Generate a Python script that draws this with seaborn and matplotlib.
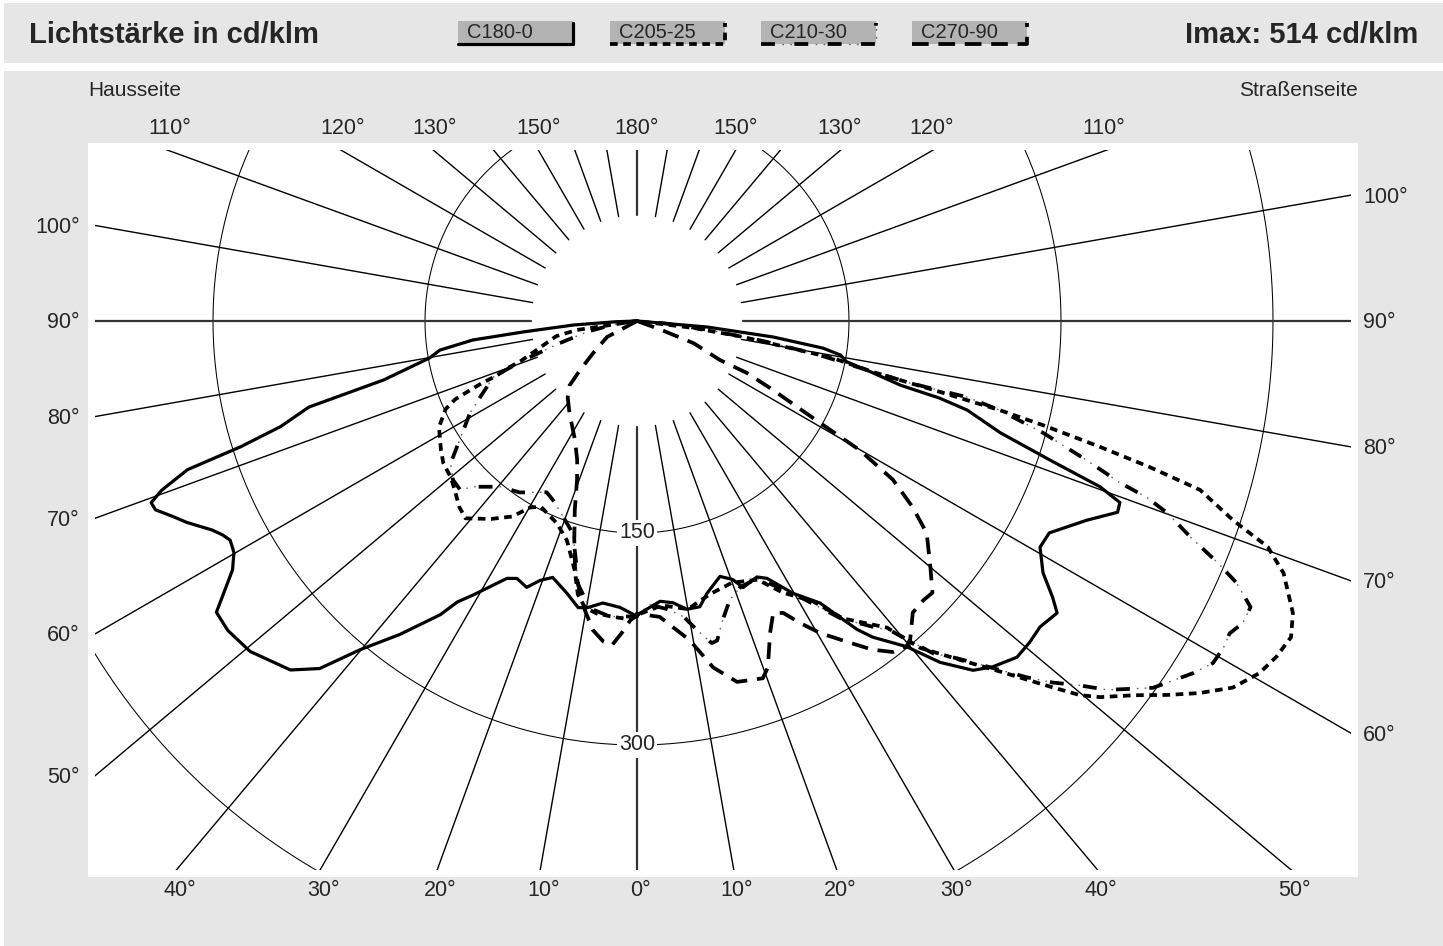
import numpy as np
import pandas as pd
import matplotlib
matplotlib.use("Agg")
import matplotlib.pyplot as plt
import seaborn as sns
from matplotlib.patches import Rectangle
from matplotlib.lines import Line2D

# ---------------- data (gamma in degrees, intensity in cd/klm) ----------------
# C180 (left half of C180-0)
c180_g = [0, 3.4, 6.9, 9.9, 11.6, 14.4, 18.2, 20.5, 22.5, 25.0, 26.8, 30.9, 32.6, 33.8, 37.1, 40.1, 42.4, 44.8,
          49.5, 52.9, 55.3, 56.3, 58.4, 60.1, 60.8, 61.7, 62.7, 63.8, 65.9, 67.1, 68.6, 69.5, 70.4, 71.7, 72.4,
          73.5, 75.3, 76.9, 79.9, 81.6, 83.4, 84.5, 86.4, 88.0, 90.0]
c180_i = [209, 203, 201, 206, 207, 199, 191, 196, 204, 201, 204, 226, 236, 250, 278, 304, 333, 348,
          360, 363, 362, 353, 336, 329, 328, 327, 330, 335, 349, 356, 366, 367, 357, 335, 294,
          263, 240, 184, 149, 141, 117, 81, 45, 15, 0]
# C0 (right half of C180-0)
c0_g = [0, 4.7, 7.3, 9.8, 12.4, 14.4, 18.0, 20.3, 21.7, 25.1, 26.8, 29.8, 33.0, 34.4, 35.5, 36.7, 39.6, 41.6,
        43.9, 45.8, 48.5, 50.7, 52.8, 55.2, 56.4, 58.2, 60.7, 62.8, 66.1, 68.3, 69.4, 70.3, 71.4, 72.9, 74.9,
        75.7, 76.3, 77.6, 79.0, 80.5, 81.7, 83.3, 85.1, 90.0]
c0_i = [208, 199, 201, 207, 207, 199, 190, 195, 203, 200, 204, 222, 238, 254, 268, 279, 299, 323,
        343, 351, 359, 359, 358, 362, 353, 338, 327, 328, 348, 366, 365, 348, 308, 269, 242,
        221, 192, 171, 151, 146, 133, 97, 50, 0]
# C205 (left half of C205-25)
c205_g = [0, 1.9, 4.6, 7.8, 10.3, 12.2, 14.0, 17.7, 21.6, 27.3, 29.8, 32.5, 36.4, 41.0, 43.7, 47.1, 50.0,
          53.7, 56.7, 61.8, 65.3, 66.7, 67.4, 68.2, 68.7, 70.0, 71.0, 73.6, 76.3, 79.4, 81.5, 90.0]
c205_i = [209, 211, 210, 209, 206, 198, 182, 163, 154, 148, 152, 164, 174, 185, 182, 176, 172,
          170, 166, 159, 149, 140, 129, 118, 107, 97, 87, 75, 66, 58, 43, 0]
# C25 (right half of C205-25)
c25_g = [0, 5, 10, 15, 20, 25, 28.2, 32.1, 34.7, 37.1, 39.2, 40.9, 43.6, 46.0, 48.6, 49.8, 50.9, 53.0, 54.8,
         56.5, 58.4, 60.5, 62.3, 64.2, 66.0, 68.7, 70.3, 71.5, 73.3, 74.1, 74.8, 75.6, 76.2, 76.8, 77.8,
         79.3, 80.0, 81.5, 83.0, 90.0]
c25_i = [208, 202, 207, 200, 197, 202, 218, 234, 256, 268, 280, 306, 331, 357, 392, 410, 422, 440, 459,
         477, 495, 506, 511, 514, 508, 491, 474, 445, 416, 377, 339, 297, 264, 222, 171,
         141, 110, 75, 40, 0]
# C210 (left half of C210-30)
c210_g = [0, 5.2, 9.3, 12.6, 14.3, 16.8, 20.7, 25.1, 27.8, 34.4, 39.5, 44.7, 46.3, 49.2, 52.6, 56.2, 61.1,
          64.2, 68.7, 70.7, 74.0, 78.0, 82.0, 90.0]
c210_i = [209, 210, 206, 191, 175, 157, 148, 140, 137, 147, 152, 165, 173, 172, 166, 151, 135,
          123, 109, 88, 57, 35, 15, 0]
# C30 (right half of C210-30)
c30_g = [0, 2.6, 6.0, 9.0, 10.5, 12.5, 13.1, 14.1, 16.0, 18.4, 21.2, 25.0, 29.8, 34.4, 37.6, 39.3, 41.7, 43.5,
         46.1, 47.6, 49.0, 50.4, 51.9, 54.6, 57.7, 59.3, 60.9, 62.2, 63.5, 65.0, 66.4, 67.4, 68.7, 70.1, 70.9,
         71.5, 72.8, 74.6, 76.2, 77.0, 77.2, 78.0, 79.5, 81.0, 83.0, 85.0, 90.0]
c30_i = [208, 201, 205, 212, 220, 231, 234, 233, 220, 208, 202, 201, 222, 255, 273, 283, 315, 329,
         356, 374, 390, 404, 423, 448, 466, 474, 475, 474, 479, 479, 463, 445, 420, 399, 382,
         360, 333, 298, 264, 240, 198, 165, 130, 90, 50, 20, 0]
# C270 (left half of C270-90)
c270_g = [0, 1.3, 2.8, 4.4, 6.0, 8.1, 10.2, 11.8, 13.0, 14.1, 16.0, 18.2, 20.7, 23.3, 27.5, 36.1, 42.2, 46.3,
          49.3, 54.0, 61.9, 90.0]
c270_i = [208, 212, 221, 230, 228, 221, 208, 197, 188, 180, 161, 141, 120, 107, 95, 81, 73, 66,
          53, 38, 24, 0]
# C90 (right half of C270-90)
c90_g = [0, 4.4, 9.4, 12.4, 15.5, 19.4, 20.7, 23.1, 25.0, 26.6, 28.4, 30.4, 33.5, 35.6, 37.7, 39.6, 40.6,
         43.4, 45.7, 47.4, 50.0, 53.8, 56.0, 58.2, 59.9, 60.9, 63.1, 64.7, 64.8, 68.6, 70.0, 90.0]
c90_i = [207, 210, 229, 251, 265, 268, 262, 240, 228, 231, 243, 256, 273, 286, 296, 299, 297,
         284, 283, 284, 271, 254, 235, 213, 182, 148, 108, 86, 65, 43, 17, 0]

legend_labels = ["C180-0", "C205-25", "C210-30", "C270-90"]
title_text = "Lichtstärke in cd/klm"
imax_text = "Imax: 514 cd/klm"
circle_values = [150, 300, 450]
circle_labels = [150, 300]
grid_angles = list(range(0, 181, 10))
top_labels = [110, 120, 130, 150, 180]

# ---------------- layout ----------------
W, H = 1443, 946
PX = 1.4133            # pixels per cd/klm
CX, CY = 637, 321      # pole position in pixels
CL, CT, CR, CB = 95, 150, 1351, 870   # drawing (clip) area in pixels

sns.set_theme(style="white")
plt.rcParams['font.family'] = ['Liberation Sans', 'DejaVu Sans']
plt.rcParams['lines.scale_dashes'] = False

fig = plt.figure(figsize=(W / 100, H / 100), dpi=100)
fig.patch.set_facecolor('white')


def fx(x):
    return x / W


def fy(y):
    return 1 - y / H


def frect(x0, y0, x1, y1, color, z=0):
    fig.patches.append(Rectangle((fx(x0), fy(y1)), fx(x1) - fx(x0), fy(y0) - fy(y1),
                                 transform=fig.transFigure, facecolor=color, edgecolor='none', zorder=z))


GREY = '#e6e6e6'
frect(4, 3, W, 63, GREY)
frect(4, 71, W, H, GREY)
frect(88, 143, 1358, 877, 'white', z=1)

ax = fig.add_axes([fx(CL), fy(CB), (CR - CL) / W, (CB - CT) / H])
ax.set_facecolor('white')
ax.set_xlim((CL - CX) / PX, (CR - CX) / PX)
ax.set_ylim(-(CB - CY) / PX, (CY - CT) / PX)
ax.set_xticks([])
ax.set_yticks([])
for s in ax.spines.values():
    s.set_visible(False)
ax.set_zorder(2)

# circles
th = np.linspace(0, 2 * np.pi, 721)
for r in circle_values:
    ax.plot(r * np.cos(th), r * np.sin(th), color='black', lw=0.75, zorder=1)

# radial lines
R0, R1 = 75, 1200
for g in grid_angles:
    for side in ([-1, 1] if g not in (0, 180) else [1]):
        gr = np.radians(g)
        xs = [side * R0 * np.sin(gr), side * R1 * np.sin(gr)]
        ys = [-R0 * np.cos(gr), -R1 * np.cos(gr)]
        if g in (0, 90, 180):
            ax.plot(xs, ys, color='#333333', lw=1.6, zorder=1)
        else:
            ax.plot(xs, ys, color='black', lw=1.0, zorder=1)

for v in circle_labels:
    ax.text(0, -v, str(v), ha='center', va='center', fontsize=15.5, zorder=3,
            bbox=dict(boxstyle='square,pad=0.1', facecolor='white', edgecolor='none'))


# ---------------- curves ----------------
def polar_xy(lg, li, rg, ri):
    lg = np.radians(np.asarray(lg, float))
    rg = np.radians(np.asarray(rg, float))
    li = np.asarray(li, float)
    ri = np.asarray(ri, float)
    x = np.concatenate([(-li * np.sin(lg))[::-1], ri * np.sin(rg)])
    y = np.concatenate([(-li * np.cos(lg))[::-1], -ri * np.cos(rg)])
    return x, y


curves = [
    (c180_g, c180_i, c0_g, c0_i),
    (c205_g, c205_i, c25_g, c25_i),
    (c210_g, c210_i, c30_g, c30_i),
    (c270_g, c270_i, c90_g, c90_i),
]
# styles in points (1 pt = 1.389 px)
thick_styles = ['-', (0, (5.5, 4.0)), (0, (10, 14)), (0, (12, 7))]
thin_styles = [None, None, (9, (1.2, 4.5, 1.2, 17.1)), (14.5, (1.2, 17.8))]
thick_lws = [2.3, 2.7, 2.7, 2.7]
for (lg, li, rg, ri), ts, tn, lw in zip(curves, thick_styles, thin_styles, thick_lws):
    x, y = polar_xy(lg, li, rg, ri)
    df = pd.DataFrame({'x': x, 'y': y})
    if tn is not None:
        sns.lineplot(data=df, x='x', y='y', sort=False, estimator=None, ax=ax, color='#666666', lw=1.0)
        ln = ax.lines[-1]
        ln.set_linestyle(tn)
        ln.set_zorder(4)
    sns.lineplot(data=df, x='x', y='y', sort=False, estimator=None, ax=ax, color='black', lw=lw)
    ln = ax.lines[-1]
    ln.set_linestyle(ts)
    ln.set_dash_capstyle('butt')
    ln.set_solid_joinstyle('round')
    ln.set_zorder(5)
ax.set_xlabel('')
ax.set_ylabel('')

# ---------------- angle labels ----------------
FS = 15.5
for g in grid_angles:
    gr = np.radians(g)
    for side in [-1, 1]:
        if g in (0, 180) and side == -1:
            continue
        dxu, dyu = side * np.sin(gr), np.cos(gr)   # screen direction (y down)
        ts = []
        if dxu > 1e-9:
            ts.append(((CR - CX) / dxu, 'R'))
        if dxu < -1e-9:
            ts.append(((CL - CX) / dxu, 'L'))
        if dyu > 1e-9:
            ts.append(((CB - CY) / dyu, 'B'))
        if dyu < -1e-9:
            ts.append(((CT - CY) / dyu, 'T'))
        t, edge = min(ts)
        px_, py_ = CX + t * dxu, CY + t * dyu
        lab = f"{g}°"
        if edge == 'L':
            fig.text(fx(80), fy(py_ + 2), lab, ha='right', va='center', fontsize=FS)
        elif edge == 'R':
            fig.text(fx(1363), fy(py_ + 2), lab, ha='left', va='center', fontsize=FS)
        elif edge == 'B':
            fig.text(fx(px_ + 3), fy(890), lab, ha='center', va='center', fontsize=FS)
        elif edge == 'T' and g in top_labels:
            tt = -170 / dyu
            fig.text(fx(CX + tt * dxu), fy(128), lab, ha='center', va='center', fontsize=FS)

fig.text(fx(135), fy(91), "Hausseite", ha='center', va='center', fontsize=15)
fig.text(fx(1298), fy(91), "Straßenseite", ha='center', va='center', fontsize=15)

# ---------------- header ----------------
fig.text(fx(29), fy(35), title_text, ha='left', va='center', fontsize=21, fontweight='bold')
fig.text(fx(1418), fy(35), imax_text, ha='right', va='center', fontsize=21, fontweight='bold')

box_x0 = [458, 610, 761, 912]
bw, by0, by1 = 115, 21, 44
for i, (lab, x0) in enumerate(zip(legend_labels, box_x0)):
    frect(x0, by0, x0 + bw, by1, '#b3b3b3', z=1)
    fig.text(fx(x0 + 9), fy(33), lab, ha='left', va='center', fontsize=14.5, zorder=3)
    xs = [fx(x0), fx(x0 + bw), fx(x0 + bw)]
    ys = [fy(by1), fy(by1), fy(by0 + 2)]
    if thin_styles[i] is not None:
        fig.add_artist(Line2D(xs, ys, transform=fig.transFigure, color='#666666', lw=1.0,
                              linestyle=thin_styles[i], zorder=3))
    fig.add_artist(Line2D(xs, ys, transform=fig.transFigure, color='black', lw=thick_lws[i],
                          linestyle=thick_styles[i], dash_capstyle='butt', zorder=4))

fig.savefig('out.png', dpi=100, facecolor=fig.get_facecolor())
